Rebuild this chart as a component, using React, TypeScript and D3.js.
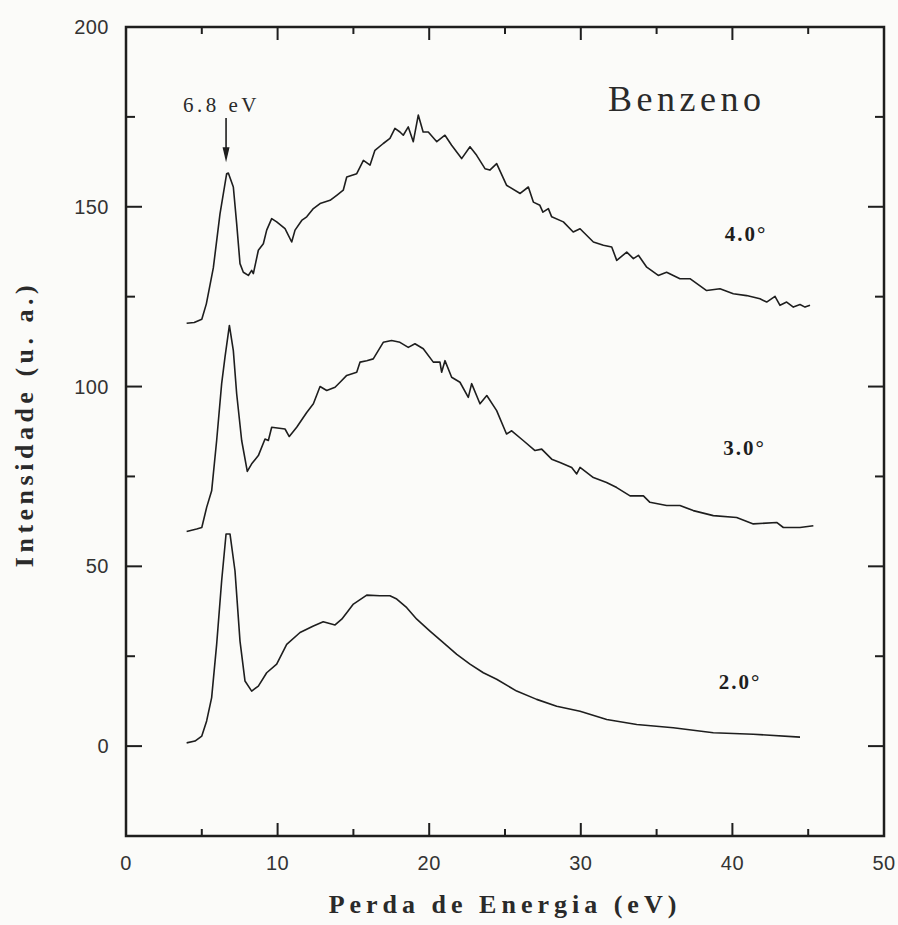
import React from "react";
import * as d3 from "d3";

const W = 898;
const H = 925;

const xTicksMajor = [0, 10, 20, 30, 40, 50];
const xTicksMinor = [5, 15, 25, 35, 45];
const yTicksMajor = [0, 50, 100, 150, 200];
const yTicksMinor = [-25, 25, 75, 125, 175];

const series40: [number, number][] = [
  [4.0, 117.6], [4.5, 117.8], [5.0, 118.7], [5.3, 123], [5.76, 133], [6.2, 148],
  [6.64, 159.2], [6.75, 159.4], [7.08, 155.5], [7.3, 145.3], [7.52, 134.2], [7.74, 131.8],
  [8.07, 130.9], [8.29, 132.3], [8.4, 131.4], [8.73, 137.9], [9.06, 139.7], [9.28, 143.5],
  [9.61, 146.7], [9.94, 145.8], [10.49, 143.9], [10.93, 140.2], [11.15, 143.5], [11.59, 146.2],
  [11.92, 147.2], [12.36, 149.5], [12.8, 150.9], [13.46, 151.8], [13.9, 153.2], [14.33, 154.6],
  [14.56, 158.3], [15.22, 159.2], [15.66, 162.9], [16.1, 161.6], [16.42, 165.7], [16.97, 167.6],
  [17.41, 169.0], [17.74, 171.8], [18.07, 170.8], [18.29, 169.9], [18.62, 172.2], [18.95, 168.1],
  [19.28, 175.5], [19.6, 170.8], [19.94, 170.8], [20.5, 168.1], [21.04, 169.9], [21.48, 167.1],
  [22.14, 163.4], [22.69, 166.7], [23.13, 164.3], [23.68, 160.6], [24.0, 160.2], [24.45, 162],
  [25.1, 156.0], [26.0, 153.7], [26.54, 155.5], [26.87, 151.3], [27.3, 150.4], [27.5, 148.5],
  [27.86, 149.5], [28.08, 147.2], [28.85, 145.8], [29.5, 143.0], [29.95, 143.9], [30.83, 140.2],
  [31.49, 139.3], [32.04, 138.8], [32.37, 135.1], [33.03, 137.4], [33.47, 135.6], [33.8, 136.5],
  [34.35, 133.2], [35.11, 130.9], [35.66, 131.8], [36.54, 130], [37.2, 130], [38.3, 126.7],
  [39.18, 127.2], [40.06, 125.8], [40.94, 125.3], [41.82, 124.4], [42.26, 123.5], [42.81, 125.1],
  [43.14, 122.6], [43.58, 123.5], [44.02, 122.1], [44.46, 122.8], [44.79, 122.1], [45.12, 122.6],
];

const series30: [number, number][] = [
  [4.0, 59.7], [4.66, 60.4], [5.0, 60.8], [5.32, 66.4], [5.65, 71.0], [5.98, 85.0],
  [6.31, 100.8], [6.53, 108.2], [6.82, 117.0], [7.08, 110.0], [7.3, 98.0], [7.63, 85.0],
  [8.0, 76.4], [8.29, 78.5], [8.73, 80.8], [9.17, 85.4], [9.39, 85.0], [9.61, 88.7],
  [10.49, 88.2], [10.77, 86.1], [11.26, 88.7], [11.92, 92.8], [12.36, 95.2], [12.8, 100.0],
  [13.24, 98.9], [13.79, 99.8], [14.12, 101.2], [14.56, 103.1], [15.22, 104.0], [15.44, 106.8],
  [15.88, 107.2], [16.31, 107.7], [16.97, 112.3], [17.52, 112.8], [18.07, 112.3], [18.62, 110.9],
  [19.06, 111.9], [19.61, 110.5], [20.27, 106.8], [20.71, 106.8], [20.82, 104.0], [21.04, 107.2],
  [21.48, 102.6], [22.03, 101.2], [22.58, 97.0], [22.8, 100.8], [23.35, 95.2], [23.8, 97.5],
  [24.45, 93.3], [25.1, 86.8], [25.44, 87.7], [26.2, 85.0], [26.98, 82.2], [27.42, 82.6],
  [28.08, 79.8], [28.63, 78.9], [29.4, 77.5], [29.73, 75.7], [29.95, 77.5], [30.83, 74.7],
  [31.7, 73.3], [32.37, 71.9], [33.25, 69.6], [34.13, 69.6], [34.56, 67.8], [35.66, 66.9],
  [36.54, 66.9], [37.42, 65.5], [38.74, 64.1], [40.28, 63.6], [41.38, 61.8], [42.92, 62.2],
  [43.36, 60.8], [44.46, 60.8], [45.34, 61.3],
];

const series20: [number, number][] = [
  [4.0, 0.9], [4.55, 1.4], [5.0, 2.8], [5.32, 7.0], [5.65, 13.5], [5.98, 28.3],
  [6.31, 46.0], [6.6, 59.0], [6.86, 59.0], [7.19, 48.7], [7.52, 29.2], [7.85, 18.1],
  [8.29, 15.3], [8.73, 16.7], [9.28, 20.4], [9.94, 22.8], [10.6, 28.3], [11.48, 31.6],
  [12.36, 33.4], [13.01, 34.6], [13.79, 33.7], [14.23, 35.3], [14.56, 37.1], [15.0, 39.5],
  [15.88, 42.0], [16.75, 41.8], [17.41, 41.8], [17.86, 40.9], [18.52, 38.5], [19.18, 35.3],
  [20.05, 32.0], [20.93, 28.8], [21.82, 25.5], [22.69, 22.8], [23.57, 20.4], [24.45, 18.6],
  [25.77, 15.3], [27.09, 13.0], [28.41, 11.1], [29.95, 9.7], [31.71, 7.4], [33.69, 6.0],
  [36.1, 5.1], [38.74, 3.7], [41.38, 3.3], [44.46, 2.5],
];

const seriesLabels = ["4.0°", "3.0°", "2.0°"];
const labelPos: [number, number][] = [[39.5, 140.5], [39.4, 81], [39.1, 16]];

const peakLabel = "6.8 eV";
const arrowX = 6.6;
const arrowTop = 174.7;
const arrowTip = 162.4;

export default function App() {
  const x = d3.scaleLinear().domain([0, 50]).range([126, 884]);
  const y = d3.scaleLinear().domain([-25, 200]).range([836, 27]);
  const line = d3
    .line<[number, number]>()
    .x((d) => x(d[0]))
    .y((d) => y(d[1]));

  const ink = "#1e1e1e";
  const serif = "'Liberation Serif', 'Times New Roman', serif";
  const sans = "'Liberation Sans', Arial, sans-serif";
  const L = 126, R = 884, T = 27, B = 836;
  const major = 13, minor = 7;

  const ax = arrowX;
  return (
    <svg
      width={W}
      height={H}
      style={{ position: "absolute", left: 0, top: 0, background: "#fbfbf9" }}
    >
      <rect x={0} y={0} width={W} height={H} fill="#fbfbf9" />
      {/* frame */}
      <rect x={L} y={T} width={R - L} height={B - T} fill="none" stroke={ink} strokeWidth={2.5} />
      {/* x ticks */}
      {xTicksMajor.map((t) => (
        <g key={"xM" + t}>
          <line x1={x(t)} x2={x(t)} y1={B} y2={B - major} stroke={ink} strokeWidth={2} />
          <line x1={x(t)} x2={x(t)} y1={T} y2={T + major} stroke={ink} strokeWidth={2} />
          <text
            x={x(t)}
            y={870}
            textAnchor="middle"
            fontFamily={sans}
            fontSize={20}
            letterSpacing={0.5}
            fill="#333"
          >
            {t}
          </text>
        </g>
      ))}
      {xTicksMinor.map((t) => (
        <g key={"xm" + t}>
          <line x1={x(t)} x2={x(t)} y1={B} y2={B - minor} stroke={ink} strokeWidth={2} />
          <line x1={x(t)} x2={x(t)} y1={T} y2={T + minor} stroke={ink} strokeWidth={2} />
        </g>
      ))}
      {/* y ticks */}
      {yTicksMajor.map((t) => (
        <g key={"yM" + t}>
          <line x1={L} x2={L + major + 3} y1={y(t)} y2={y(t)} stroke={ink} strokeWidth={2} />
          <line x1={R} x2={R - major - 3} y1={y(t)} y2={y(t)} stroke={ink} strokeWidth={2} />
          <text
            x={109}
            y={y(t) + 7}
            textAnchor="end"
            fontFamily={sans}
            fontSize={20}
            letterSpacing={0.5}
            fill="#333"
          >
            {t}
          </text>
        </g>
      ))}
      {yTicksMinor.map((t) => (
        <g key={"ym" + t}>
          <line x1={L} x2={L + minor + 2} y1={y(t)} y2={y(t)} stroke={ink} strokeWidth={2} />
          <line x1={R} x2={R - minor - 2} y1={y(t)} y2={y(t)} stroke={ink} strokeWidth={2} />
        </g>
      ))}
      {/* curves */}
      {[series40, series30, series20].map((s, i) => (
        <path key={"s" + i} d={line(s) || ""} fill="none" stroke={ink} strokeWidth={1.6} strokeLinejoin="round" />
      ))}
      {/* series labels */}
      {seriesLabels.map((lab, i) => (
        <text
          key={lab}
          x={x(labelPos[i][0])}
          y={y(labelPos[i][1])}
          fontFamily={serif}
          fontWeight="bold"
          fontSize={21}
          letterSpacing={2}
          fill={ink}
        >
          {lab}
        </text>
      ))}
      {/* annotation */}
      <text
        x={183}
        y={112}
        fontFamily={serif}
        fontSize={21}
        letterSpacing={3.5}
        fill="#2a2a2a"
      >
        {peakLabel}
      </text>
      <line x1={x(ax)} x2={x(ax)} y1={y(arrowTop)} y2={y(arrowTip) - 12} stroke={ink} strokeWidth={1.6} />
      <path
        d={`M${x(ax) - 3.5},${y(arrowTip) - 15} L${x(ax) + 3.5},${y(arrowTip) - 15} L${x(ax)},${y(arrowTip)} Z`}
        fill={ink}
      />
      <text
        x={608}
        y={111}
        fontFamily={serif}
        fontSize={36}
        letterSpacing={4.5}
        fill="#2a2a2a"
      >
        Benzeno
      </text>
      {/* axis titles */}
      <text
        x={505}
        y={913}
        textAnchor="middle"
        fontFamily={serif}
        fontWeight="bold"
        fontSize={26}
        letterSpacing={5}
        fill="#2a2a2a"
      >
        Perda de Energia (eV)
      </text>
      <text
        transform="translate(33,424) rotate(-90)"
        textAnchor="middle"
        fontFamily={serif}
        fontWeight="bold"
        fontSize={26}
        letterSpacing={4.5}
        fill="#2a2a2a"
      >
        Intensidade (u. a.)
      </text>
    </svg>
  );
}
